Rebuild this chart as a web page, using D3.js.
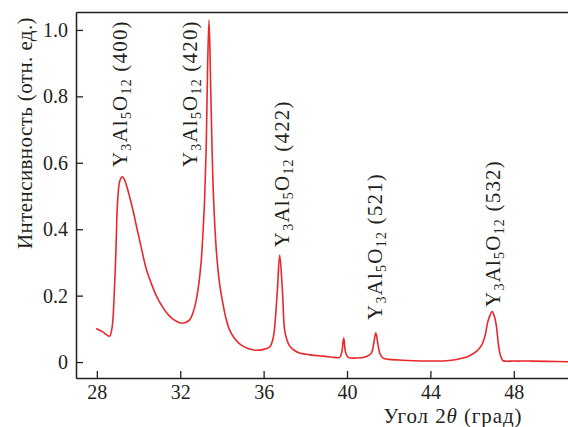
<!DOCTYPE html>
<html>
<head>
<meta charset="utf-8">
<script src="https://cdn.jsdelivr.net/npm/d3@7"></script>
<style>
  body { margin: 0; background: #fff; }
</style>
</head>
<body>
<svg id="chart" width="568" height="427"></svg>
<script>
// угол 2θ и интенсивность
const twoTheta = [27.97, 28.3, 28.61, 28.72, 28.77, 28.9, 29.0, 29.1, 29.22, 29.32, 29.44, 29.73,
  29.89, 30.05, 30.21, 30.37, 30.61, 30.85, 31.09, 31.33, 31.65, 32.05, 32.25, 32.45, 32.62, 32.77,
  32.9, 33.01, 33.1, 33.17, 33.25, 33.31, 33.38, 33.45, 33.52, 33.6, 33.73, 33.88, 34.05, 34.2,
  34.37, 34.6, 34.85, 35.1, 35.47, 35.8, 36.1, 36.3, 36.45, 36.53, 36.66, 36.77, 36.9, 37.0,
  37.1, 37.25, 37.5, 37.73, 38.3, 38.85, 39.4, 39.65, 39.75, 39.84, 39.93, 40.05, 40.45, 40.9,
  41.17, 41.28, 41.38, 41.48, 41.58, 41.73, 42.0, 42.53, 43.17, 44.0, 44.77, 45.2, 45.57, 45.9,
  46.21, 46.45, 46.61, 46.77, 46.96, 47.08, 47.17, 47.25, 47.33, 47.42, 47.49, 48.0, 48.77,
  49.6, 50.6];
const intensity = [0.101, 0.09, 0.078, 0.1, 0.127, 0.307, 0.488, 0.545, 0.558, 0.55, 0.528, 0.458,
  0.412, 0.367, 0.322, 0.28, 0.237, 0.2, 0.172, 0.15, 0.129, 0.117, 0.119, 0.127, 0.15, 0.187,
  0.24, 0.307, 0.4, 0.49, 0.66, 0.88, 1.03, 0.86, 0.66, 0.49, 0.337, 0.24, 0.175, 0.13,
  0.096, 0.072, 0.055, 0.045, 0.037, 0.036, 0.04, 0.046, 0.07, 0.106, 0.217, 0.322, 0.217, 0.1,
  0.07, 0.048, 0.034, 0.027, 0.021, 0.018, 0.014, 0.014, 0.03, 0.072, 0.03, 0.015, 0.012, 0.016,
  0.027, 0.055, 0.088, 0.055, 0.025, 0.012, 0.008, 0.006, 0.004, 0.003, 0.004, 0.007, 0.012, 0.02,
  0.032, 0.05, 0.076, 0.125, 0.152, 0.135, 0.106, 0.06, 0.027, 0.01, 0.004, 0.003, 0.003,
  0.002, 0.001];

const xTicks = [28, 32, 36, 40, 44, 48];
const yTicks = [0, 0.2, 0.4, 0.6, 0.8, 1.0];
const yTickLabels = ["0", "0.2", "0.4", "0.6", "0.8", "1.0"];

// подписи пиков: индексы Миллера и точка привязки (2θ, I)
const peakHkl = ["(400)", "(420)", "(422)", "(521)", "(532)"];
const peakLabelX = [29.43, 32.79, 37.2, 41.66, 47.33];
const peakLabelY = [0.587, 0.587, 0.346, 0.127, 0.166];

const margin = { left: 76, right: 568, top: 12, bottom: 378 };
const FONT = "'Liberation Serif', 'Times New Roman', serif";
const INK = "#231f20";

const svg = d3.select("#chart");

const x = d3.scaleLinear().domain([27, 50.6]).range([margin.left, margin.right]);
const y = d3.scaleLinear().domain([-0.048, 1.054]).range([margin.bottom, margin.top]);

// оси
const gx = svg.append("g")
  .attr("transform", "translate(0," + margin.bottom + ")")
  .call(d3.axisBottom(x).tickValues(xTicks).tickFormat(d3.format("d"))
    .tickSizeInner(-7).tickSizeOuter(0).tickPadding(7));

const gy = svg.append("g")
  .attr("transform", "translate(" + margin.left + ",0)")
  .call(d3.axisLeft(y).tickValues(yTicks).tickFormat((d, i) => yTickLabels[i])
    .tickSizeInner(-7).tickSizeOuter(0).tickPadding(8));

const gt = svg.append("g")
  .attr("transform", "translate(0," + margin.top + ")")
  .call(d3.axisTop(x).tickValues([]).tickSizeOuter(0));

[gx, gy, gt].forEach(g => {
  g.select(".domain").attr("stroke", INK).attr("stroke-width", 1.5);
  g.selectAll(".tick line").attr("stroke", INK).attr("stroke-width", 1.3);
  g.selectAll(".tick text").style("font-family", FONT).style("font-size", "20px").attr("fill", INK);
});

// кривая
const line = d3.line()
  .x(d => x(d[0]))
  .y(d => y(d[1]))
  .curve(d3.curveCatmullRom.alpha(0.5));

svg.append("path")
  .datum(d3.zip(twoTheta, intensity))
  .attr("fill", "none")
  .attr("stroke", "#e8282b")
  .attr("stroke-width", 1.6)
  .attr("stroke-linejoin", "round")
  .attr("d", line);

// подписи пиков Y3Al5O12 (hkl)
peakHkl.forEach((hkl, i) => {
  const t = svg.append("text")
    .attr("transform", "translate(" + x(peakLabelX[i]) + "," + y(peakLabelY[i]) + ") rotate(-90)")
    .attr("fill", INK)
    .style("font-family", FONT)
    .style("font-size", "21px")
    .style("letter-spacing", "1.2px");
  const parts = [["Y", false], ["3", true], ["Al", false], ["5", true], ["O", false], ["12", true], ["\u00a0" + hkl, false]];
  let sub = false;
  parts.forEach(([s, isSub]) => {
    const ts = t.append("tspan").text(s);
    if (isSub) {
      ts.style("font-size", "14px");
      if (!sub) ts.attr("dy", 4);
    } else if (sub) {
      ts.attr("dy", -4);
    }
    sub = isSub;
  });
});

// подписи осей
svg.append("text")
  .attr("transform", "translate(32,133) rotate(-90)")
  .attr("text-anchor", "middle")
  .attr("fill", INK)
  .style("font-family", FONT)
  .style("font-size", "21px")
  .style("letter-spacing", "0.4px")
  .text("Интенсивность (отн. ед.)");

const xt = svg.append("text")
  .attr("x", 453)
  .attr("y", 423)
  .attr("text-anchor", "middle")
  .attr("fill", INK)
  .style("font-family", FONT)
  .style("font-size", "21px")
  .style("letter-spacing", "0.9px");
xt.append("tspan").text("Угол 2");
xt.append("tspan").style("font-style", "italic").text("θ");
xt.append("tspan").text(" (град)");
</script>
</body>
</html>
